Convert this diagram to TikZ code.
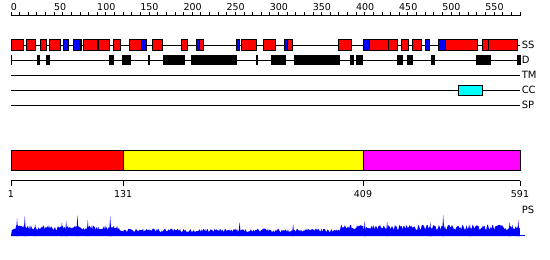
\documentclass[tikz,border=0pt]{standalone}
\usepackage{fontspec}
\setmainfont{DejaVu Sans}
\definecolor{ssred}{RGB}{255,0,0}
\definecolor{ssblue}{RGB}{0,0,255}
\definecolor{cccyan}{RGB}{0,255,255}
\definecolor{domyellow}{RGB}{255,255,0}
\definecolor{dommagenta}{RGB}{255,0,255}

\begin{document}
\begin{tikzpicture}[x=1pt,y=-1pt,line width=0.8pt,
  box/.style={draw=black,line width=0.8pt},
  rowlabel/.style={anchor=west,inner sep=0.5pt,font=\fontsize{10}{12}\selectfont},
  numlabel/.style={inner sep=0pt,font=\fontsize{9.5}{11}\selectfont}]
\useasboundingbox (0,0) rectangle (550,260);
\begin{scope}[xshift=11pt,x=0.8627pt]
% ruler on top
\draw (0,15) -- (591,15);
\foreach \t in {0,10,...,590} \draw (\t,15) -- (\t,12);
\foreach \t in {0,50,...,550} \node[numlabel,anchor=base west] (top\t) at (\t-0.5,10) {\t};
% feature rows
\draw (0,45) -- (590,45);
\draw (0,60) -- (590,60);
\draw (0,75) -- (590,75);
\draw (0,90) -- (590,90);
\draw (0,105) -- (590,105);
\foreach \s/\e in {0/14,18/28,34/41,44/57,80/82,84/100,101/114,119/127,137/151,164/175,198/204,218/223,267/285,292/307,320/326,380/394,415/437,438/448,452/461,465/476,504/541,547/553,553/587}
  \draw[box,fill=ssred] (\s,39.5) rectangle (\e,50.5);
\foreach \s/\e in {61/67,72/80,151/157,215/218,261/265,317/320,408/415,480/485,495/503}
  \draw[box,fill=ssblue] (\s,39.5) rectangle (\e,50.5);
\foreach \s/\e in {0/1.5,30/34,41/45,114/119,129/139,159/161,176/202,209/262,284/286,301/316,317/318.5,328/381,393/398,400/408,448/454,459/466,487/491,539/556,587/591}
  \fill (\s,55) rectangle (\e,65);
\draw[box,fill=cccyan] (519,85) rectangle (546,95);
\node[rowlabel] (ss) at (591,45) {SS};
\node[rowlabel] (d) at (591,60) {D};
\node[rowlabel] (tm) at (591,75) {TM};
\node[rowlabel] (cc) at (591,90) {CC};
\node[rowlabel] (sp) at (591,105) {SP};
% domains
\draw[box,fill=ssred] (0,150) rectangle (130,170);
\draw[box,fill=domyellow] (130,150) rectangle (408,170);
\draw[box,fill=dommagenta] (408,150) rectangle (590,170);
% ruler below
\draw (0,180.5) -- (590,180.5);
\foreach \p in {1,131,409,591}
  \draw (\p-1,180.5) -- (\p-1,185.5) node[numlabel,anchor=north,yshift=-5pt] (bot\p) {\p};
\node[rowlabel] (ps) at (591,210) {PS};
% profile
\pgfmathsetseed{591}
\fill[ssblue] (0,236) \foreach \k in {1,...,590} { -- (\k,{236-(6.5+3*(\k<126)+3.5*(\k>381))*(0.6+0.55*rnd)}) } -- (590,236) -- cycle;
\foreach \r/\h in {7/18,16/20,28/12,59/14,64/15,77/21,89/16,115/20,265/14,327/12,410/15,436/15,486/14,501/21,532/12,578/14,588/16}
  \fill[ssblue] (\r-1.5,236) -- (\r,236-\h) -- (\r+1.5,236) -- cycle;
\draw[ssblue,line width=1pt] (0,235.8) -- (596,235.8);
\end{scope}
\end{tikzpicture}
\end{document}
